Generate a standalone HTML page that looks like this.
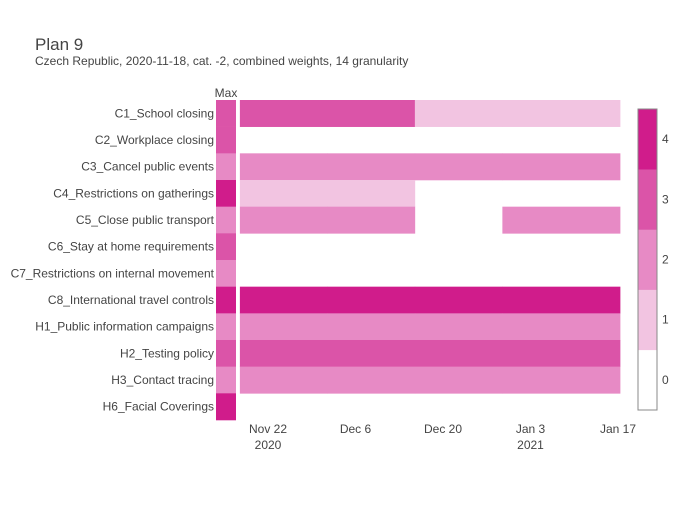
<!DOCTYPE html>
<html><head><meta charset="utf-8"><style>
body{margin:0;background:#fff;font-family:"Liberation Sans",Arial,sans-serif;}
svg text{font-family:"Liberation Sans",Arial,sans-serif;fill:#444;}
</style></head><body>
<svg id="chart" width="700" height="500">
<text x="35" y="50" font-size="17">Plan 9</text>
<text x="35" y="65" font-size="12">Czech Republic, 2020-11-18, cat. -2, combined weights, 14 granularity</text>
<text x="226" y="97" font-size="12" text-anchor="middle" fill="#666">Max</text>
<g id="rows"></g><g id="cells"></g><g id="xaxis"></g><g id="cbar"></g>
</svg>
<script>
const categories=["C1_School closing","C2_Workplace closing","C3_Cancel public events","C4_Restrictions on gatherings","C5_Close public transport","C6_Stay at home requirements","C7_Restrictions on internal movement","C8_International travel controls","H1_Public information campaigns","H2_Testing policy","H3_Contact tracing","H6_Facial Coverings"];
const colStarts=["2020-11-17T12:00Z","2020-12-01T12:00Z","2020-12-15T12:00Z","2020-12-29T12:00Z"];
const colEnd="2021-01-17T08:00Z";
const values=[[3,3,1,1],[0,0,0,0],[2,2,2,2],[1,1,0,0],[2,2,0,2],[0,0,0,0],[0,0,0,0],[4,4,4,4],[2,2,2,2],[3,3,3,3],[2,2,2,2],[0,0,0,0]];
const maxValues=[3,3,2,4,2,3,2,4,2,3,2,4];
const tickDates=["2020-11-22","2020-12-06","2020-12-20","2021-01-03","2021-01-17"];
const tickLabels=["Nov 22","Dec 6","Dec 20","Jan 3","Jan 17"];
const tickYears=["2020","","","2021",""];
const cbLevels=[0,1,2,3,4];
const colors=["#ffffff","#f2c4e1","#e78ac5","#db54a8","#d01c8b"];
const NS="http://www.w3.org/2000/svg";
const day=864e5, t0=Date.parse("2020-11-22");
function xS(d){return 268+(Date.parse(d)-t0)/day*6.25;}
const yTop=100,rowH=320/categories.length;
function yS(i){return yTop+i*rowH;}
function mk(tag,attrs,parent){const e=document.createElementNS(NS,tag);for(const k in attrs)e.setAttribute(k,attrs[k]);document.getElementById(parent).appendChild(e);return e;}
categories.forEach((c,i)=>{
 const t=mk("text",{x:214,y:yS(i)+rowH/2+4,"font-size":12,"text-anchor":"end"},"rows");
 t.textContent=c;
 
 
 const m=mk("rect",{x:216,y:yS(i),width:20,height:rowH+0.3,fill:colors[maxValues[i]]},"cells");
 
 
 values[i].forEach((v,j)=>{
  if(v===0)return;
  const x0=xS(colStarts[j]),x1=xS(j+1<colStarts.length?colStarts[j+1]:colEnd);
  const r=mk("rect",{x:x0,y:yS(i),width:x1-x0+0.3,height:rowH+0.3,fill:colors[v]},"cells");
  
  
 });
});
tickDates.forEach((d,i)=>{
 const t=mk("text",{x:xS(d),y:433,"font-size":12,"text-anchor":"middle"},"xaxis");
 t.textContent=tickLabels[i];
 
 
 if(tickYears[i]){const y=mk("text",{x:xS(d),y:449,"font-size":12,"text-anchor":"middle"},"xaxis");y.textContent=tickYears[i];
 
 }
});
const cbTop=109,cbBot=410,bandH=(cbBot-cbTop)/cbLevels.length;
cbLevels.forEach((l,i)=>{
 const y=cbBot-(i+1)*bandH;
 const r=mk("rect",{x:638,y:y,width:19,height:bandH+0.3,fill:colors[l]},"cbar");
 
 
 const t=mk("text",{x:662,y:y+bandH/2+4,"font-size":12},"cbar");
 t.textContent=l;
 
 
});
const b=mk("rect",{x:638,y:cbTop,width:19,height:cbBot-cbTop,fill:"none",stroke:"#888","stroke-width":1},"cbar");


</script>
</body></html>
